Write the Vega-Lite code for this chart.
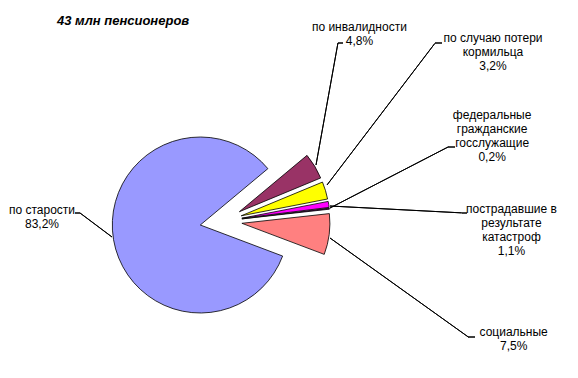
{
  "$schema": "https://vega.github.io/schema/vega-lite/v6.json",
  "width": 176,
  "height": 176,
  "autosize": {"type": "none"},
  "padding": {"left": 136, "top": 133, "right": 266, "bottom": 69},
  "background": "white",
  "title": {"text": "43 млн пенсионеров", "anchor": "start", "frame": "group", "font": "Liberation Sans", "fontSize": 13, "fontStyle": "italic", "fontWeight": "bold", "color": "#000000", "dx": -79, "offset": -66},
  "config": {"view": {"stroke": null}, "font": "Liberation Sans"},
  "data": {"values": [
    {"n": 1, "cat": "по инвалидности", "share": 4.8, "label": "по инвалидности\n4,8%"},
    {"n": 2, "cat": "по случаю потери кормильца", "share": 3.2, "label": "по случаю потери\nкормильца\n3,2%"},
    {"n": 3, "cat": "пострадавшие в результате катастроф", "share": 1.1, "label": "пострадавшие в\nрезультате\nкатастроф\n1,1%"},
    {"n": 4, "cat": "федеральные гражданские госслужащие", "share": 0.2, "label": "федеральные\nгражданские\nгосслужащие\n0,2%"},
    {"n": 5, "cat": "социальные", "share": 7.5, "label": "социальные\n7,5%"},
    {"n": 6, "cat": "по старости", "share": 83.2, "label": "по старости\n83,2%"}
  ]},
  "layer": [
    {
      "encoding": {
        "theta": {"field": "share", "type": "quantitative", "stack": true, "scale": {"range": [0.876, 7.159]}},
        "order": {"field": "n", "type": "quantitative"},
        "detail": {"field": "cat", "type": "nominal"}
      },
      "layer": [
        {"mark": {"type": "arc", "stroke": "#000000", "strokeWidth": 0.8, "xOffset": -23.7, "yOffset": 4},
         "encoding": {"color": {"field": "cat", "type": "nominal", "legend": null, "scale": {"domain": ["по инвалидности", "по случаю потери кормильца", "пострадавшие в результате катастроф", "федеральные гражданские госслужащие", "социальные", "по старости"], "range": ["#993366", "#FFFF00", "#FF00FF", "#660066", "#FF8080", "#9999FF"]}},
           "opacity": {"condition": {"test": "datum.n === 6", "value": 1}, "value": 0}}},
        {"mark": {"type": "arc", "stroke": "#000000", "strokeWidth": 0.8, "xOffset": 15.4, "yOffset": -9.3},
         "encoding": {"color": {"field": "cat", "type": "nominal", "legend": null},
           "opacity": {"condition": {"test": "datum.n === 1", "value": 1}, "value": 0}}},
        {"mark": {"type": "arc", "stroke": "#000000", "strokeWidth": 0.8, "xOffset": 17.2, "yOffset": -5.2},
         "encoding": {"color": {"field": "cat", "type": "nominal", "legend": null},
           "opacity": {"condition": {"test": "datum.n === 2", "value": 1}, "value": 0}}},
        {"mark": {"type": "arc", "stroke": "#000000", "strokeWidth": 0.8, "xOffset": 17.8, "yOffset": -2.8},
         "encoding": {"color": {"field": "cat", "type": "nominal", "legend": null},
           "opacity": {"condition": {"test": "datum.n === 3", "value": 1}, "value": 0}}},
        {"mark": {"type": "arc", "stroke": "#000000", "strokeWidth": 0.8, "xOffset": 17.9, "yOffset": -2.1},
         "encoding": {"color": {"field": "cat", "type": "nominal", "legend": null},
           "opacity": {"condition": {"test": "datum.n === 4", "value": 1}, "value": 0}}},
        {"mark": {"type": "arc", "stroke": "#000000", "strokeWidth": 0.8, "xOffset": 17.9, "yOffset": 2.3},
         "encoding": {"color": {"field": "cat", "type": "nominal", "legend": null},
           "opacity": {"condition": {"test": "datum.n === 5", "value": 1}, "value": 0}}},
        {"mark": {"type": "text", "radius": 212, "dx": -46, "dy": -84, "lineBreak": "\n", "lineHeight": 14, "fontSize": 12, "align": "center", "baseline": "middle", "fill": "#000000"},
         "encoding": {"text": {"condition": {"test": "datum.n === 1", "field": "label"}, "value": ""}}},
        {"mark": {"type": "text", "radius": 306, "dx": -24, "dy": -95, "lineBreak": "\n", "lineHeight": 14, "fontSize": 12, "align": "center", "baseline": "middle", "fill": "#000000"},
         "encoding": {"text": {"condition": {"test": "datum.n === 2", "field": "label"}, "value": ""}}},
        {"mark": {"type": "text", "radius": 283, "dx": 8, "dy": 32, "lineBreak": "\n", "lineHeight": 14, "fontSize": 12, "align": "center", "baseline": "middle", "fill": "#000000"},
         "encoding": {"text": {"condition": {"test": "datum.n === 3", "field": "label"}, "value": ""}}},
        {"mark": {"type": "text", "radius": 276, "dx": -6, "dy": -74, "lineBreak": "\n", "lineHeight": 14, "fontSize": 12, "align": "center", "baseline": "middle", "fill": "#000000"},
         "encoding": {"text": {"condition": {"test": "datum.n === 4", "field": "label"}, "value": ""}}},
        {"mark": {"type": "text", "radius": 298, "dx": -6, "dy": 74, "lineBreak": "\n", "lineHeight": 14, "fontSize": 12, "align": "center", "baseline": "middle", "fill": "#000000"},
         "encoding": {"text": {"condition": {"test": "datum.n === 5", "field": "label"}, "value": ""}}},
        {"mark": {"type": "text", "radius": 179, "dx": -5.5, "dy": -40.5, "lineBreak": "\n", "lineHeight": 14, "fontSize": 12, "align": "center", "baseline": "middle", "fill": "#000000"},
         "encoding": {"text": {"condition": {"test": "datum.n === 6", "field": "label"}, "value": ""}}}
      ]
    },
    {
      "data": {"values": [{}]},
      "layer": [
        {"mark": {"type": "arc", "filled": false, "stroke": "#000000", "strokeWidth": 1, "theta": -0.927, "theta2": -0.927, "radius": 40, "radius2": 0, "xOffset": -112, "yOffset": 16}, "encoding": {}},
        {"mark": {"type": "arc", "filled": false, "stroke": "#000000", "strokeWidth": 1, "theta": -1.5708, "theta2": -1.5708, "radius": 5, "radius2": 0, "xOffset": -144, "yOffset": -8}, "encoding": {}},
        {"mark": {"type": "arc", "filled": false, "stroke": "#000000", "strokeWidth": 1, "theta": 0.178, "theta2": 0.178, "radius": 124, "radius2": 0, "xOffset": 92, "yOffset": -56}, "encoding": {}},
        {"mark": {"type": "arc", "filled": false, "stroke": "#000000", "strokeWidth": 1, "theta": 1.5708, "theta2": 1.5708, "radius": 5, "radius2": 0, "xOffset": 114, "yOffset": -178}, "encoding": {}},
        {"mark": {"type": "arc", "filled": false, "stroke": "#000000", "strokeWidth": 1, "theta": 0.651, "theta2": 0.651, "radius": 178, "radius2": 0, "xOffset": 103, "yOffset": -36}, "encoding": {}},
        {"mark": {"type": "arc", "filled": false, "stroke": "#000000", "strokeWidth": 1, "theta": 1.5708, "theta2": 1.5708, "radius": 7, "radius2": 0, "xOffset": 211, "yOffset": -178}, "encoding": {}},
        {"mark": {"type": "arc", "filled": false, "stroke": "#000000", "strokeWidth": 1, "theta": 1.094, "theta2": 1.094, "radius": 133, "radius2": 0, "xOffset": 106, "yOffset": -13}, "encoding": {}},
        {"mark": {"type": "arc", "filled": false, "stroke": "#000000", "strokeWidth": 1, "theta": 1.5708, "theta2": 1.5708, "radius": 7, "radius2": 0, "xOffset": 224, "yOffset": -74}, "encoding": {}},
        {"mark": {"type": "arc", "filled": false, "stroke": "#000000", "strokeWidth": 1, "theta": 1.623, "theta2": 1.623, "radius": 132, "radius2": 0, "xOffset": 106, "yOffset": -15}, "encoding": {}},
        {"mark": {"type": "arc", "filled": false, "stroke": "#000000", "strokeWidth": 1, "theta": 1.5708, "theta2": 1.5708, "radius": 5, "radius2": 0, "xOffset": 238, "yOffset": -8}, "encoding": {}},
        {"mark": {"type": "arc", "filled": false, "stroke": "#000000", "strokeWidth": 1, "theta": 2.192, "theta2": 2.192, "radius": 170, "radius2": 0, "xOffset": 106, "yOffset": 17}, "encoding": {}},
        {"mark": {"type": "arc", "filled": false, "stroke": "#000000", "strokeWidth": 1, "theta": 1.5708, "theta2": 1.5708, "radius": 7, "radius2": 0, "xOffset": 244, "yOffset": 116}, "encoding": {}}
      ]
    }
  ]
}
